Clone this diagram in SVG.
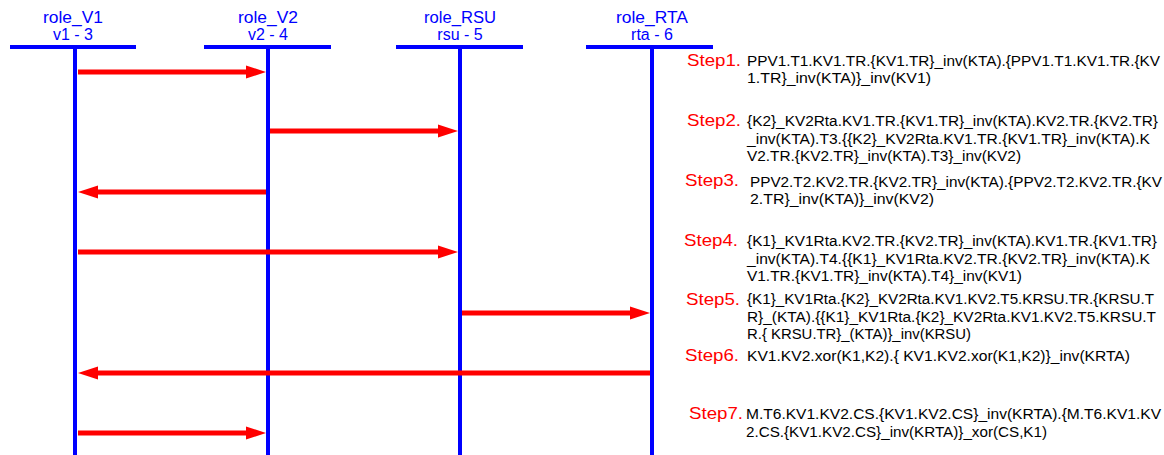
<svg xmlns="http://www.w3.org/2000/svg" width="1164" height="455" viewBox="0 0 1164 455">
<style>
.title{font-family:"Liberation Sans",Arial,sans-serif;font-size:16px;fill:#0000ff;text-anchor:middle}
.bar{stroke:#0000ff;stroke-width:4}
.life{stroke:#0000ff;stroke-width:4}
.msg{stroke:#ff0000;stroke-width:5;fill:none}
.head{fill:#ff0000}
.step{font-family:"Liberation Sans",Arial,sans-serif;font-size:17px;fill:#ff0000}
.txt{font-family:"Liberation Sans",Arial,sans-serif;font-size:14px;fill:#000}
</style>
<rect width="1164" height="455" fill="#fff"/>
<g id="role_V1">
<text class="title" x="73" y="23" textLength="60" lengthAdjust="spacingAndGlyphs">role_V1</text>
<text class="title" x="73" y="40">v1 - 3</text>
<line class="bar" x1="10" y1="47" x2="136" y2="47"/>
<line class="life" x1="75" y1="47" x2="75" y2="455"/>
</g>
<g id="role_V2">
<text class="title" x="268" y="23" textLength="60" lengthAdjust="spacingAndGlyphs">role_V2</text>
<text class="title" x="268" y="40">v2 - 4</text>
<line class="bar" x1="204" y1="47" x2="331" y2="47"/>
<line class="life" x1="268" y1="47" x2="268" y2="455"/>
</g>
<g id="role_RSU">
<text class="title" x="460" y="23" textLength="72" lengthAdjust="spacingAndGlyphs">role_RSU</text>
<text class="title" x="460" y="40">rsu - 5</text>
<line class="bar" x1="396" y1="47" x2="523" y2="47"/>
<line class="life" x1="460" y1="47" x2="460" y2="455"/>
</g>
<g id="role_RTA">
<text class="title" x="652" y="23" textLength="72" lengthAdjust="spacingAndGlyphs">role_RTA</text>
<text class="title" x="652" y="40">rta - 6</text>
<line class="bar" x1="586" y1="47" x2="713" y2="47"/>
<line class="life" x1="652" y1="47" x2="652" y2="455"/>
</g>
<g id="connectors">
<line class="msg" x1="78" y1="72" x2="248" y2="72"/><polygon class="head" points="266,72 246,65.5 246,78.5"/>
<line class="msg" x1="270" y1="131" x2="440" y2="131"/><polygon class="head" points="458,131 438,124.5 438,137.5"/>
<line class="msg" x1="266" y1="192" x2="96" y2="192"/><polygon class="head" points="78,192 98,185.5 98,198.5"/>
<line class="msg" x1="78" y1="252" x2="440" y2="252"/><polygon class="head" points="458,252 438,245.5 438,258.5"/>
<line class="msg" x1="462" y1="313" x2="632" y2="313"/><polygon class="head" points="650,313 630,306.5 630,319.5"/>
<line class="msg" x1="650" y1="373" x2="96" y2="373"/><polygon class="head" points="78,373 98,366.5 98,379.5"/>
<line class="msg" x1="78" y1="433" x2="248" y2="433"/><polygon class="head" points="266,433 246,426.5 246,439.5"/>
</g>
<g id="step1">
<text class="step" x="687" y="66" textLength="54" lengthAdjust="spacingAndGlyphs">Step1.</text>
<text class="txt" x="747" y="66" textLength="413" lengthAdjust="spacingAndGlyphs">PPV1.T1.KV1.TR.{KV1.TR}_inv(KTA).{PPV1.T1.KV1.TR.{KV</text>
<text class="txt" x="747" y="83" textLength="184" lengthAdjust="spacingAndGlyphs">1.TR}_inv(KTA)}_inv(KV1)</text>
</g>
<g id="step2">
<text class="step" x="687" y="126" textLength="54" lengthAdjust="spacingAndGlyphs">Step2.</text>
<text class="txt" x="747" y="126" textLength="411" lengthAdjust="spacingAndGlyphs">{K2}_KV2Rta.KV1.TR.{KV1.TR}_inv(KTA).KV2.TR.{KV2.TR}</text>
<text class="txt" x="747" y="144" textLength="403" lengthAdjust="spacingAndGlyphs">_inv(KTA).T3.{{K2}_KV2Rta.KV1.TR.{KV1.TR}_inv(KTA).K</text>
<text class="txt" x="747" y="161" textLength="274" lengthAdjust="spacingAndGlyphs">V2.TR.{KV2.TR}_inv(KTA).T3}_inv(KV2)</text>
</g>
<g id="step3">
<text class="step" x="685" y="186" textLength="54" lengthAdjust="spacingAndGlyphs">Step3.</text>
<text class="txt" x="750" y="187" textLength="412" lengthAdjust="spacingAndGlyphs">PPV2.T2.KV2.TR.{KV2.TR}_inv(KTA).{PPV2.T2.KV2.TR.{KV</text>
<text class="txt" x="750" y="204" textLength="184" lengthAdjust="spacingAndGlyphs">2.TR}_inv(KTA)}_inv(KV2)</text>
</g>
<g id="step4">
<text class="step" x="684" y="246" textLength="54" lengthAdjust="spacingAndGlyphs">Step4.</text>
<text class="txt" x="747" y="246" textLength="410" lengthAdjust="spacingAndGlyphs">{K1}_KV1Rta.KV2.TR.{KV2.TR}_inv(KTA).KV1.TR.{KV1.TR}</text>
<text class="txt" x="747" y="264" textLength="403" lengthAdjust="spacingAndGlyphs">_inv(KTA).T4.{{K1}_KV1Rta.KV2.TR.{KV2.TR}_inv(KTA).K</text>
<text class="txt" x="747" y="281" textLength="275" lengthAdjust="spacingAndGlyphs">V1.TR.{KV1.TR}_inv(KTA).T4}_inv(KV1)</text>
</g>
<g id="step5">
<text class="step" x="686" y="305" textLength="54" lengthAdjust="spacingAndGlyphs">Step5.</text>
<text class="txt" x="747" y="304" textLength="407" lengthAdjust="spacingAndGlyphs">{K1}_KV1Rta.{K2}_KV2Rta.KV1.KV2.T5.KRSU.TR.{KRSU.T</text>
<text class="txt" x="747" y="322" textLength="409" lengthAdjust="spacingAndGlyphs">R}_(KTA).{{K1}_KV1Rta.{K2}_KV2Rta.KV1.KV2.T5.KRSU.T</text>
<text class="txt" x="747" y="339" textLength="224" lengthAdjust="spacingAndGlyphs">R.{ KRSU.TR}_(KTA)}_inv(KRSU)</text>
</g>
<g id="step6">
<text class="step" x="685" y="361" textLength="54" lengthAdjust="spacingAndGlyphs">Step6.</text>
<text class="txt" x="747" y="361" textLength="383" lengthAdjust="spacingAndGlyphs">KV1.KV2.xor(K1,K2).{ KV1.KV2.xor(K1,K2)}_inv(KRTA)</text>
</g>
<g id="step7">
<text class="step" x="689" y="419" textLength="54" lengthAdjust="spacingAndGlyphs">Step7.</text>
<text class="txt" x="746" y="419" textLength="415" lengthAdjust="spacingAndGlyphs">M.T6.KV1.KV2.CS.{KV1.KV2.CS}_inv(KRTA).{M.T6.KV1.KV</text>
<text class="txt" x="746" y="437" textLength="301" lengthAdjust="spacingAndGlyphs">2.CS.{KV1.KV2.CS}_inv(KRTA)}_xor(CS,K1)</text>
</g>
</svg>
